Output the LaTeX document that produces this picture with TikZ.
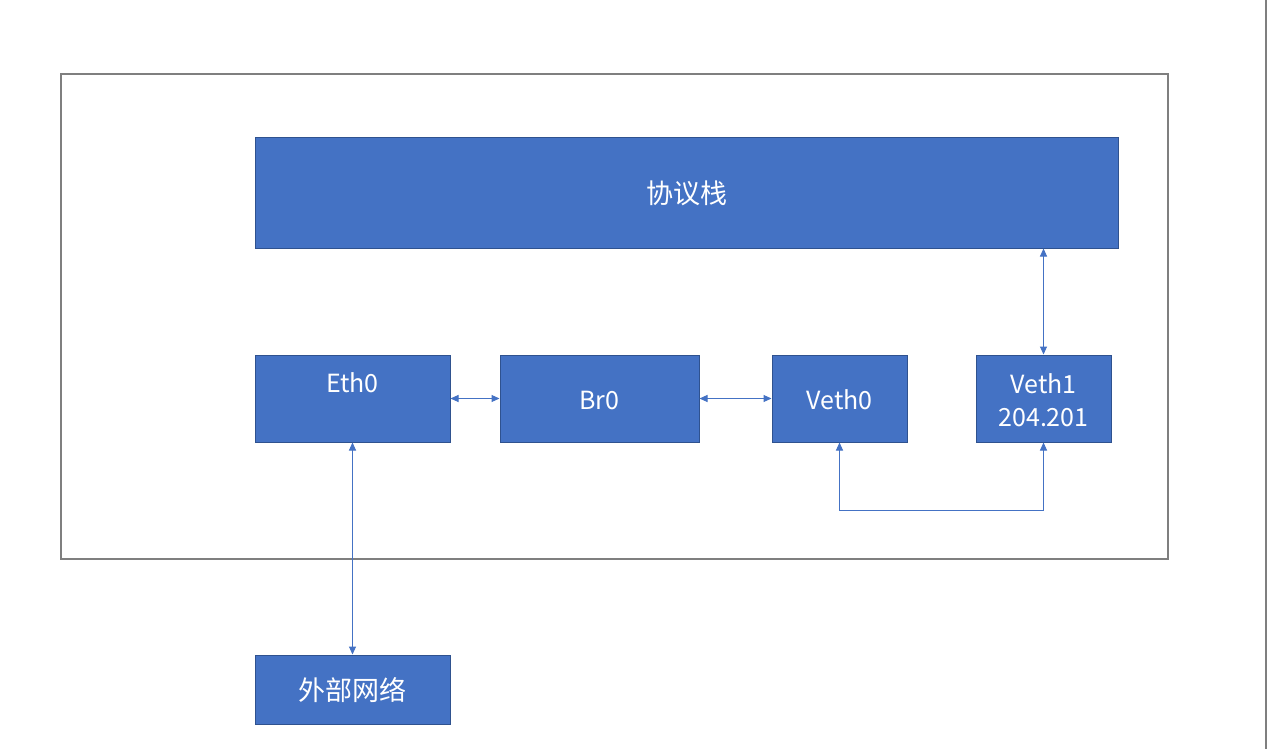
\documentclass[tikz,border=0pt]{standalone}
\usepackage{fontspec}
\setmainfont{Noto Sans CJK SC}
\usetikzlibrary{arrows.meta}
\definecolor{boxfill}{HTML}{4472C4}
\definecolor{boxline}{HTML}{2F528F}
\definecolor{framegray}{HTML}{7F7F7F}
\begin{document}
\begin{tikzpicture}[x=1pt,y=-1pt,
  blk/.style={rectangle,fill=boxfill,draw=boxline,line width=1pt,inner sep=0pt,anchor=center},
  txt/.style={text=white,font=\fontsize{25}{33}\selectfont,align=center,inner sep=0pt},
  cjktxt/.style={txt,font=\fontsize{27}{33}\selectfont},
  conn/.style={draw=boxfill,line width=1pt,{Triangle[length=8pt,width=7pt]}-{Triangle[length=8pt,width=7pt]}}]
\fill[white] (0,0) rectangle (1268,749);
\useasboundingbox (0,0) rectangle (1268,749);
% outer frame and right edge line
\draw[framegray,line width=1.5pt] (61,74) rectangle (1168,559);
\draw[framegray,line width=2pt] (1266,0) -- (1266,749);
% boxes
\node[blk,minimum width=863pt,minimum height=111pt] (stack) at (686.5,192.5) {};
\node[cjktxt] (stackt) at (686.5,193) {协议栈};
\node[blk,minimum width=195pt,minimum height=87pt] (eth0) at (352.5,398.5) {};
\node[txt] (eth0t) at (352.5,383) {Eth0};
\node[blk,minimum width=199pt,minimum height=87pt] (br0) at (599.5,398.5) {};
\node[txt] (br0t) at (599.5,400) {Br0};
\node[blk,minimum width=135pt,minimum height=87pt] (veth0) at (839.5,398.5) {};
\node[txt] (veth0t) at (839.5,400) {Veth0};
\node[blk,minimum width=135pt,minimum height=87pt] (veth1) at (1043.5,398.5) {};
\node[txt] (veth1t) at (1043.5,400) {Veth1\\204.201};
\node[blk,minimum width=195pt,minimum height=69pt] (ext) at (352.5,689.5) {};
\node[cjktxt] (extt) at (352.5,690) {外部网络};
% connectors
\coordinate (loop) at (0,510);
\draw[conn] (eth0.east) -- (br0.west);
\draw[conn] (br0.east) -- (veth0.west);
\draw[conn] (stack.south -| veth1.north) -- (veth1.north);
\draw[conn] (eth0.south) -- (ext.north);
\draw[conn] (veth0.south) -- (veth0.south |- loop) -- (veth1.south |- loop) -- (veth1.south);
\end{tikzpicture}
\end{document}
